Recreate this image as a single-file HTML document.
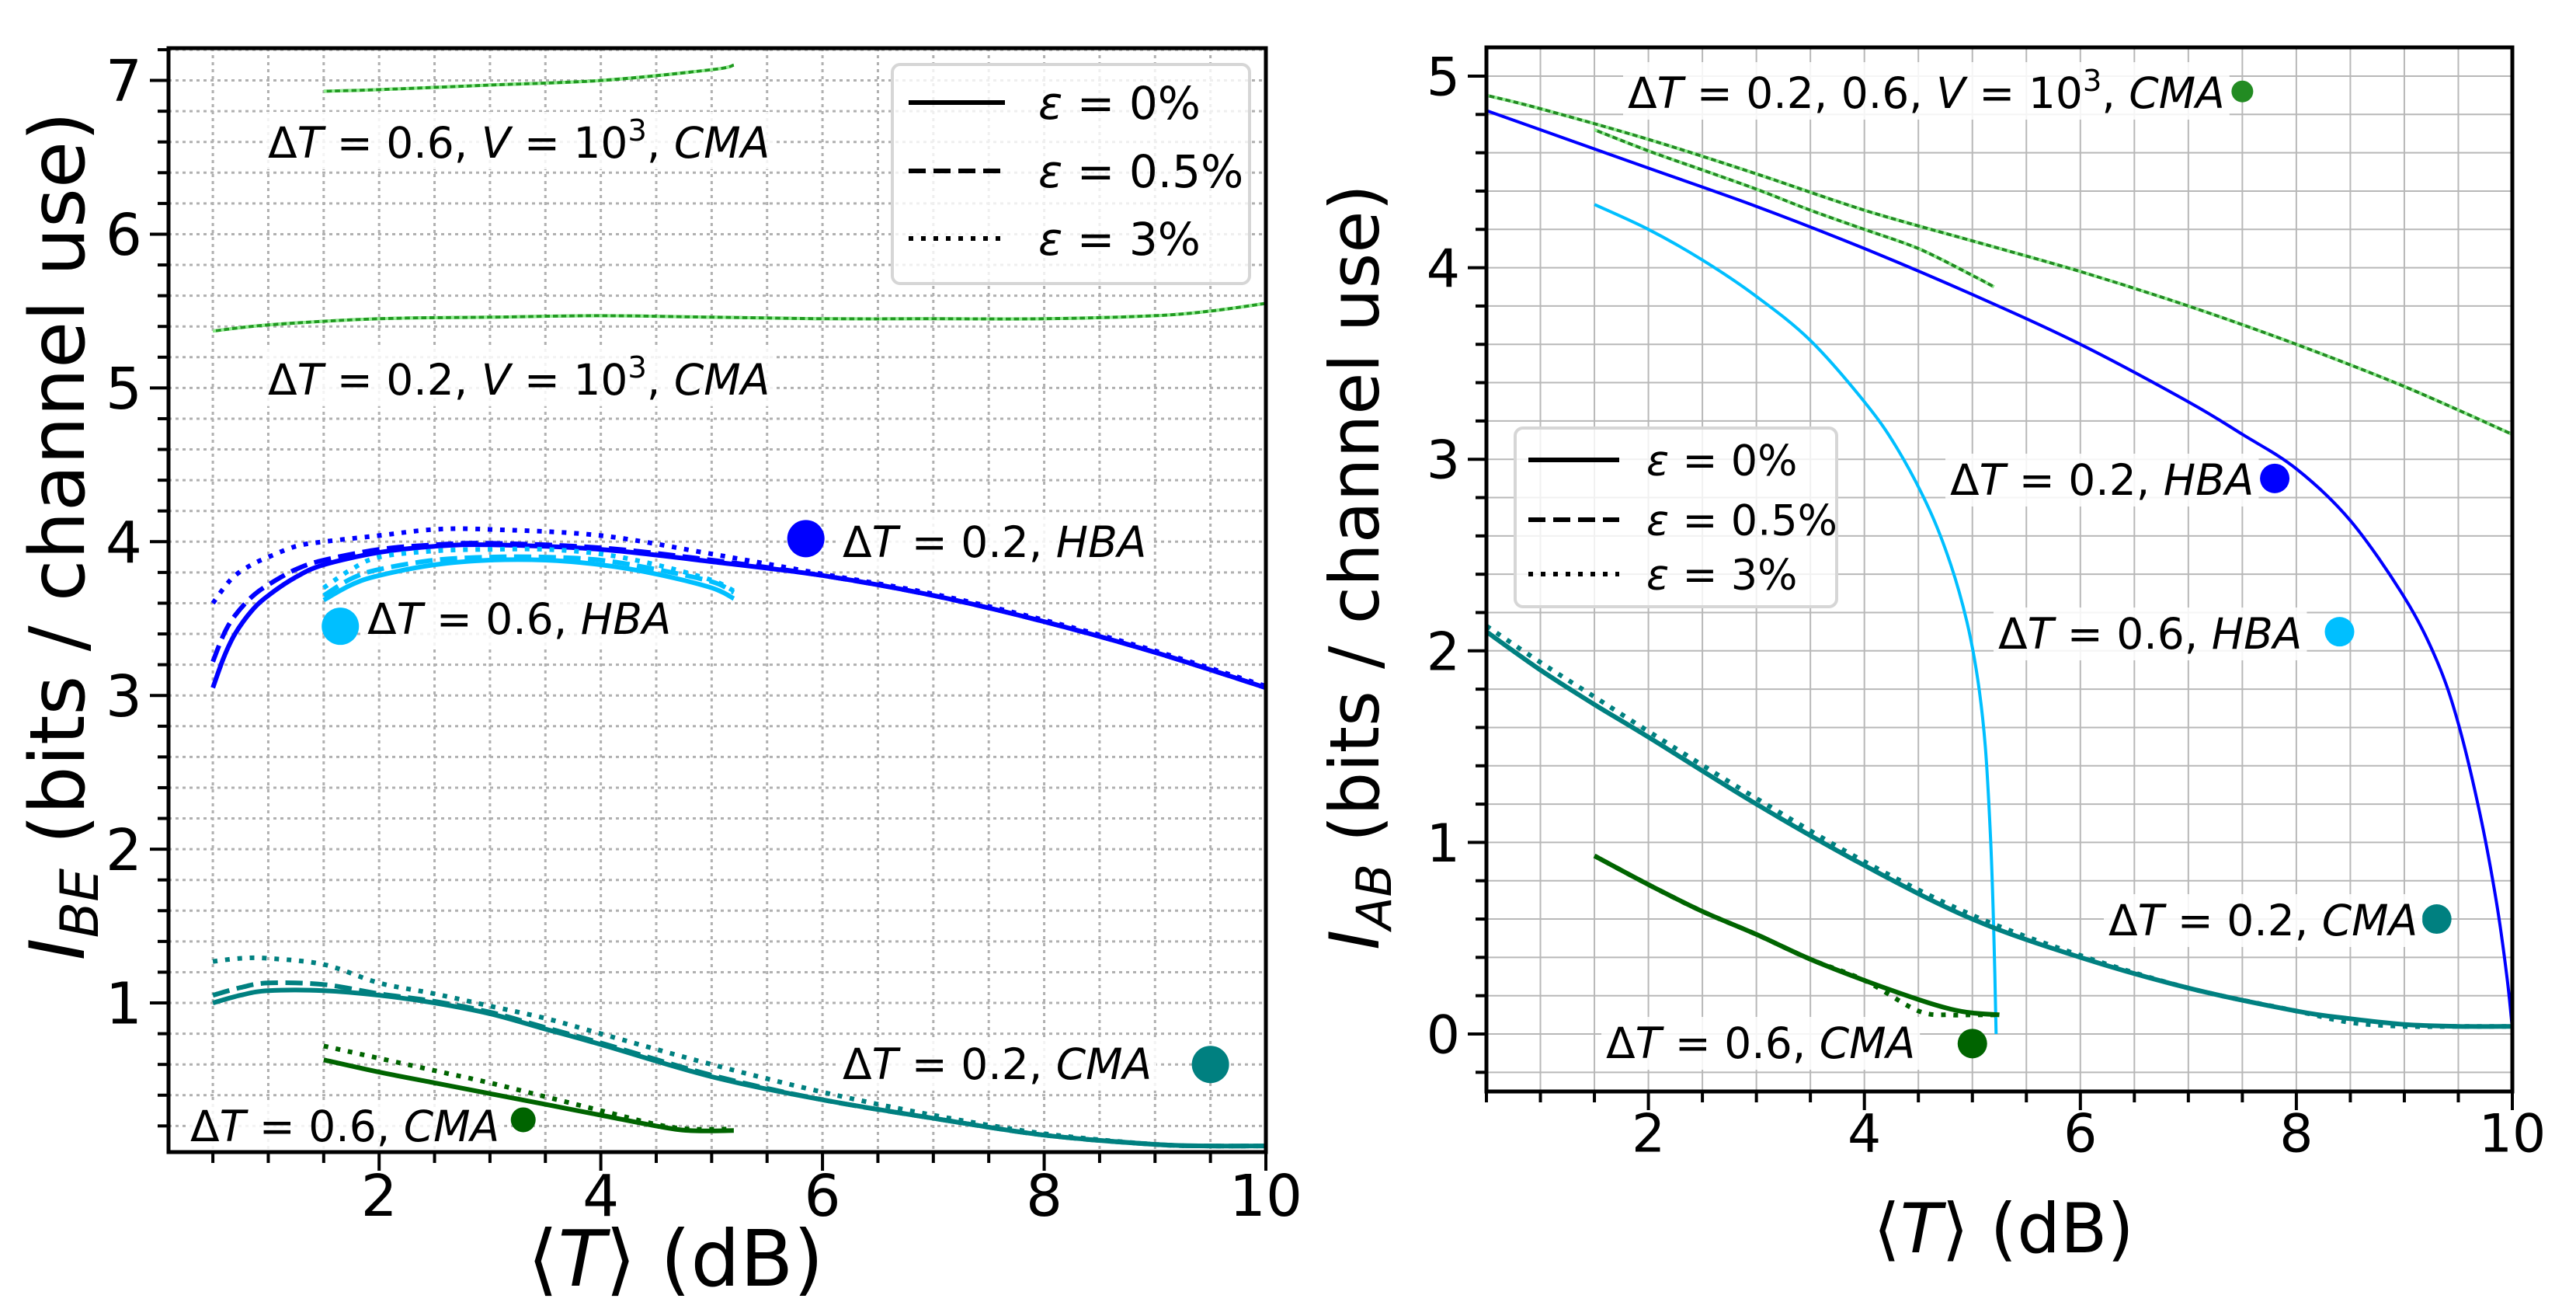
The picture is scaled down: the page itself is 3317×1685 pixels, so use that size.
<!DOCTYPE html>
<html><head><meta charset="utf-8">
<style>
html,body{margin:0;padding:0;background:#fff;}
svg{display:block;font-family:"DejaVu Sans","Liberation Sans",sans-serif;}
</style></head>
<body>
<svg id="fig" width="3317" height="1685" viewBox="0 0 3317 1685" xmlns="http://www.w3.org/2000/svg">
<rect x="0" y="0" width="3317" height="1685" fill="#fff"/>
<g id="left"></g>
<g id="right"></g>
</svg>
<script>
// ===== LEFT chart data (I_BE) =====
const L_vcma06_x = [1.5, 2, 3, 4, 5, 5.2];
const L_vcma06_y = [6.93, 6.94, 6.97, 7.0, 7.07, 7.1];
const L_vcma02_x = [0.5, 1, 2, 3, 4, 5, 6, 7, 8, 9, 9.5, 10];
const L_vcma02_y = [5.37, 5.41, 5.45, 5.46, 5.47, 5.46, 5.45, 5.45, 5.45, 5.47, 5.5, 5.55];
const L_hba02_x = [0.5, 0.6, 0.7, 0.85, 1, 1.25, 1.5, 2, 2.5, 3, 4, 5, 6, 7, 8, 9, 10];
const L_hba02_s = [3.05, 3.25, 3.4, 3.55, 3.65, 3.77, 3.85, 3.93, 3.97, 3.98, 3.95, 3.87, 3.78, 3.65, 3.48, 3.28, 3.05];
const L_hba02_d = [3.22, 3.4, 3.52, 3.64, 3.72, 3.82, 3.88, 3.95, 3.98, 3.99, 3.96, 3.88, 3.78, 3.65, 3.48, 3.28, 3.05];
const L_hba02_o = [3.6, 3.7, 3.78, 3.85, 3.9, 3.97, 4.0, 4.04, 4.08, 4.08, 4.04, 3.92, 3.79, 3.66, 3.49, 3.29, 3.06];
const L_hba06_x = [1.5, 1.75, 2, 2.5, 3, 3.5, 4, 4.5, 5, 5.2];
const L_hba06_s = [3.62, 3.72, 3.78, 3.85, 3.88, 3.88, 3.85, 3.79, 3.7, 3.63];
const L_hba06_d = [3.65, 3.76, 3.82, 3.88, 3.9, 3.9, 3.88, 3.82, 3.74, 3.67];
const L_hba06_o = [3.7, 3.82, 3.9, 3.94, 3.95, 3.95, 3.92, 3.85, 3.75, 3.68];
const L_cma02_x = [0.5, 0.75, 1, 1.5, 2, 2.5, 3, 3.5, 4, 5, 6, 7, 8, 9, 9.5, 10];
const L_cma02_s = [1.0, 1.05, 1.08, 1.08, 1.05, 1.0, 0.93, 0.83, 0.73, 0.52, 0.37, 0.25, 0.14, 0.08, 0.07, 0.07];
const L_cma02_d = [1.05, 1.1, 1.13, 1.12, 1.06, 1.01, 0.94, 0.84, 0.74, 0.53, 0.37, 0.25, 0.14, 0.08, 0.07, 0.07];
const L_cma02_o = [1.27, 1.29, 1.29, 1.25, 1.13, 1.06, 0.98, 0.9, 0.8, 0.6, 0.42, 0.27, 0.15, 0.08, 0.07, 0.07];
const L_cma06_x = [1.5, 2, 2.5, 3, 3.5, 4, 4.5, 4.8, 5.2];
const L_cma06_s = [0.63, 0.55, 0.48, 0.41, 0.34, 0.27, 0.2, 0.17, 0.17];
const L_cma06_o = [0.72, 0.64, 0.56, 0.48, 0.39, 0.3, 0.21, 0.18, 0.18];
const L_xticks = [2, 4, 6, 8, 10];
const L_yticks = [1, 2, 3, 4, 5, 6, 7];

// ===== RIGHT chart data (I_AB) =====
const R_vcma02_x = [0.5, 1, 2, 3, 4, 5, 6, 7, 8, 9, 10];
const R_vcma02_y = [4.9, 4.83, 4.67, 4.49, 4.3, 4.14, 3.98, 3.8, 3.6, 3.38, 3.13];
const R_vcma06_x = [1.5, 2, 2.5, 3, 3.5, 4, 4.5, 5, 5.2];
const R_vcma06_y = [4.72, 4.61, 4.51, 4.41, 4.3, 4.2, 4.1, 3.96, 3.9];
const R_hba02_x = [0.5, 1, 2, 3, 4, 5, 6, 7, 7.5, 8, 8.5, 9, 9.3, 9.5, 9.7, 9.85, 9.95, 10];
const R_hba02_y = [4.82, 4.72, 4.52, 4.32, 4.1, 3.86, 3.6, 3.3, 3.13, 2.95, 2.68, 2.28, 1.95, 1.62, 1.15, 0.7, 0.3, 0.03];
const R_hba06_x = [1.5, 2, 2.5, 3, 3.5, 4, 4.3, 4.6, 4.8, 4.95, 5.05, 5.12, 5.17, 5.2, 5.22];
const R_hba06_y = [4.33, 4.2, 4.04, 3.85, 3.62, 3.3, 3.06, 2.74, 2.45, 2.15, 1.85, 1.5, 1.0, 0.5, 0.0];
const R_cma02_x = [0.5, 1, 1.5, 2, 3, 4, 5, 6, 7, 8, 8.5, 9, 9.5, 10];
const R_cma02_s = [2.1, 1.9, 1.72, 1.55, 1.2, 0.88, 0.6, 0.4, 0.24, 0.12, 0.08, 0.05, 0.04, 0.04];
const R_cma02_o = [2.13, 1.94, 1.76, 1.58, 1.23, 0.9, 0.62, 0.41, 0.24, 0.12, 0.06, 0.04, 0.04, 0.04];
const R_cma06_x = [1.5, 2, 2.5, 3, 3.5, 4, 4.5, 4.8, 5, 5.25];
const R_cma06_s = [0.93, 0.78, 0.64, 0.52, 0.39, 0.28, 0.18, 0.13, 0.11, 0.1];
const R_cma06_o = [0.93, 0.78, 0.64, 0.52, 0.39, 0.28, 0.12, 0.1, 0.1, 0.1];
const R_xticks = [2, 4, 6, 8, 10];
const R_yticks = [0, 1, 2, 3, 4, 5];

const NS = 'http://www.w3.org/2000/svg';
function mk(parent, tag, attrs, text) {
  const e = document.createElementNS(NS, tag);
  for (const k in attrs) e.setAttribute(k, attrs[k]);
  if (text !== undefined) e.textContent = text;
  parent.appendChild(e);
  return e;
}
function axis(x0, x1, y0, y1, d0, d1, r0, r1) {
  return {
    x: v => x0 + (v - d0) / (d1 - d0) * (x1 - x0),
    y: v => y1 - (v - r0) / (r1 - r0) * (y1 - y0),
    x0, x1, y0, y1, d0, d1, r0, r1
  };
}
function pathD(ax, xs, ys) {
  const P = xs.map((v, i) => [ax.x(v), ax.y(ys[i])]);
  let d = 'M' + P[0][0].toFixed(1) + ' ' + P[0][1].toFixed(1);
  for (let i = 0; i < P.length - 1; i++) {
    const p0 = P[Math.max(0, i - 1)], p1 = P[i], p2 = P[i + 1], p3 = P[Math.min(P.length - 1, i + 2)];
    const c1 = [p1[0] + (p2[0] - p0[0]) / 6, p1[1] + (p2[1] - p0[1]) / 6];
    const c2 = [p2[0] - (p3[0] - p1[0]) / 6, p2[1] - (p3[1] - p1[1]) / 6];
    d += ' C' + c1[0].toFixed(1) + ' ' + c1[1].toFixed(1) + ' ' + c2[0].toFixed(1) + ' ' + c2[1].toFixed(1) + ' ' + p2[0].toFixed(1) + ' ' + p2[1].toFixed(1);
  }
  return d;
}
function line(g, ax, xs, ys, color, w, style, name) {
  const a = { d: pathD(ax, xs, ys), fill: 'none', stroke: color, 'stroke-width': w, 'stroke-linejoin': 'round' };
  if (style === 'dash') a['stroke-dasharray'] = (w * 3.7) + ' ' + (w * 1.6);
  if (style === 'dot') a['stroke-dasharray'] = w + ' ' + (w * 1.65);
  const p = mk(g, 'path', a);
  
  
  return p;
}
function marker(g, ax, xv, yv, r, color, name) {
  const c = mk(g, 'circle', { cx: ax.x(xv), cy: ax.y(yv), r: r, fill: color });
  
  
}
function label(g, x, y, parts, fs, name) {
  const t = mk(g, 'text', { x: x, y: y, 'font-size': fs, fill: '#000' });
  
  
  parts.forEach(p => {
    const s = mk(t, 'tspan', {}, p[0]);
    if (p[1] === 'i') s.setAttribute('font-style', 'italic');
    if (p[1] === 'sup') { s.setAttribute('font-size', fs * 0.7); s.setAttribute('dy', -fs * 0.4); }
    if (p[1] === 'unsup') { s.setAttribute('dy', fs * 0.4); }
  });
  const bb = t.getBBox();
  const r = mk(g, 'rect', { x: bb.x - 6, y: bb.y - 2, width: bb.width + 12, height: bb.height + 4, fill: '#fff', 'fill-opacity': 0.85 });
  
  
  g.insertBefore(r, t);
}
function gridAndAxes(g, ax, xstep, ystep, xt, yt, dotted, tfs, name) {
  const gg = mk(g, 'g', {});
  
  
  const st = dotted ? { stroke: '#b0b0b0', 'stroke-width': 3, 'stroke-dasharray': '4 5' } : { stroke: '#b8b8b8', 'stroke-width': 2 };
  for (let v = Math.ceil(ax.d0 / xstep) * xstep; v <= ax.d1 + 1e-9; v += xstep) {
    mk(gg, 'line', Object.assign({ x1: ax.x(v), x2: ax.x(v), y1: ax.y0, y2: ax.y1 }, st));
    const major = Math.abs(v - Math.round(v / 2) * 2) < 1e-6;
    mk(gg, 'line', { x1: ax.x(v), x2: ax.x(v), y1: ax.y1, y2: ax.y1 + (major ? 24 : 14), stroke: '#000', 'stroke-width': 4 });
  }
  for (let v = Math.ceil(ax.r0 / ystep - 1e-9) * ystep; v <= ax.r1 + 1e-9; v += ystep) {
    mk(gg, 'line', Object.assign({ x1: ax.x0, x2: ax.x1, y1: ax.y(v), y2: ax.y(v) }, st));
    const major = Math.abs(v - Math.round(v)) < 1e-6;
    mk(gg, 'line', { x1: ax.x0, x2: ax.x0 - (major ? 24 : 14), y1: ax.y(v), y2: ax.y(v), stroke: '#000', 'stroke-width': 4 });
  }
  xt.forEach(v => {
    const t = mk(g, 'text', { x: ax.x(v), y: ax.y1 + 28 + tfs * 0.73, 'font-size': tfs, 'text-anchor': 'middle' }, String(v));
    
    
  });
  yt.forEach(v => {
    const t = mk(g, 'text', { x: ax.x0 - 34, y: ax.y(v) + tfs * 0.36, 'font-size': tfs, 'text-anchor': 'end' }, String(v));
    
    
  });
}
function frame(g, ax, name) {
  const r = mk(g, 'rect', { x: ax.x0, y: ax.y0, width: ax.x1 - ax.x0, height: ax.y1 - ax.y0, fill: 'none', stroke: '#000', 'stroke-width': 5 });
  
  
}
function legend(g, x, y, w, h, rows, lx0, lx1, tx, fs, name) {
  const lg = mk(g, 'g', {});
  
  
  mk(lg, 'rect', { x: x, y: y, width: w, height: h, rx: 10, fill: '#fff', 'fill-opacity': 0.8, stroke: '#d6d6d6', 'stroke-width': 4 });
  const styles = ['solid', 'dash', 'dot'];
  const texts = ['0', '0.5', '3'];
  rows.forEach((ry, i) => {
    const a = { x1: lx0, x2: lx1, y1: ry, y2: ry, stroke: '#000', 'stroke-width': 6 };
    if (styles[i] === 'dash') a['stroke-dasharray'] = '22 10';
    if (styles[i] === 'dot') a['stroke-dasharray'] = '6 10';
    const l = mk(lg, 'line', a);
    
    
    const t = mk(lg, 'text', { x: tx, y: ry + fs * 0.36, 'font-size': fs });
    
    
    mk(t, 'tspan', { 'font-style': 'italic' }, 'ε');
    mk(t, 'tspan', {}, ' = ' + texts[i] + '%');
  });
}

// ===== LEFT =====
(function () {
  const g = document.getElementById('left');
  const ax = axis(217, 1630, 62, 1483, 0.1, 10, 0.03, 7.21);
  gridAndAxes(g, ax, 0.5, 0.2, L_xticks, L_yticks, true, 74, 'left');
  const W = 6;
  line(g, ax, L_vcma06_x, L_vcma06_y, '#1f9a1f', 4, 'solid', 'line-v-cma-06');
  line(g, ax, L_vcma06_x, L_vcma06_y, '#90ee90', 4, 'dot', 'line-v-cma-06-dotted');
  line(g, ax, L_vcma02_x, L_vcma02_y, '#1f9a1f', 4, 'solid', 'line-v-cma-02');
  line(g, ax, L_vcma02_x, L_vcma02_y, '#90ee90', 4, 'dot', 'line-v-cma-02-dotted');
  line(g, ax, L_hba02_x, L_hba02_s, '#0000ff', W, 'solid', 'line-hba-02-e0');
  line(g, ax, L_hba02_x, L_hba02_d, '#0000ff', W, 'dash', 'line-hba-02-e05');
  line(g, ax, L_hba02_x, L_hba02_o, '#0000ff', W, 'dot', 'line-hba-02-e3');
  line(g, ax, L_hba06_x, L_hba06_s, '#00bfff', W, 'solid', 'line-hba-06-e0');
  line(g, ax, L_hba06_x, L_hba06_d, '#00bfff', W, 'dash', 'line-hba-06-e05');
  line(g, ax, L_hba06_x, L_hba06_o, '#00bfff', W, 'dot', 'line-hba-06-e3');
  line(g, ax, L_cma02_x, L_cma02_s, '#008080', W, 'solid', 'line-cma-02-e0');
  line(g, ax, L_cma02_x, L_cma02_d, '#008080', W, 'dash', 'line-cma-02-e05');
  line(g, ax, L_cma02_x, L_cma02_o, '#008080', W, 'dot', 'line-cma-02-e3');
  line(g, ax, L_cma06_x, L_cma06_s, '#006400', W, 'solid', 'line-cma-06-e0');
  line(g, ax, L_cma06_x, L_cma06_o, '#006400', W, 'dot', 'line-cma-06-e3');
  marker(g, ax, 5.85, 4.02, 24, '#0000ff', 'marker-hba-02');
  marker(g, ax, 1.65, 3.45, 24, '#00bfff', 'marker-hba-06');
  marker(g, ax, 9.5, 0.6, 24, '#008080', 'marker-cma-02');
  marker(g, ax, 3.3, 0.24, 16, '#006400', 'marker-cma-06');
  const fs = 55;
  label(g, 345, 203, [['Δ'], ['T', 'i'], [' = 0.6, '], ['V', 'i'], [' = 10'], ['3', 'sup'], [', ', 'unsup'], ['CMA', 'i']], fs, 'label-v-cma-06');
  label(g, 345, 508, [['Δ'], ['T', 'i'], [' = 0.2, '], ['V', 'i'], [' = 10'], ['3', 'sup'], [', ', 'unsup'], ['CMA', 'i']], fs, 'label-v-cma-02');
  label(g, 1085, 717, [['Δ'], ['T', 'i'], [' =  0.2, '], ['HBA', 'i']], fs, 'label-hba-02');
  label(g, 473, 816, [['Δ'], ['T', 'i'], [' = 0.6, '], ['HBA', 'i']], fs, 'label-hba-06');
  label(g, 1085, 1389, [['Δ'], ['T', 'i'], [' = 0.2, '], ['CMA', 'i']], fs, 'label-cma-02');
  label(g, 245, 1469, [['Δ'], ['T', 'i'], [' = 0.6, '], ['CMA', 'i']], fs, 'label-cma-06');
  frame(g, ax, 'left');
  legend(g, 1149, 83, 460, 282, [132, 220, 307], 1170, 1294, 1337, 58, 'left-legend');
  const xl = mk(g, 'text', { x: 870, y: 1655, 'font-size': 100, 'text-anchor': 'middle' });
  
  
  mk(xl, 'tspan', {}, '⟨');
  mk(xl, 'tspan', { 'font-style': 'italic' }, 'T');
  mk(xl, 'tspan', {}, '⟩ (dB)');
  const yl = mk(g, 'text', { x: 0, y: 0, 'font-size': 98, 'text-anchor': 'middle', transform: 'translate(108,690) rotate(-90)' });
  
  
  mk(yl, 'tspan', { 'font-style': 'italic' }, 'I');
  mk(yl, 'tspan', { 'font-style': 'italic', 'font-size': 68, dy: 18 }, 'BE');
  mk(yl, 'tspan', { dy: -18 }, ' (bits / channel use)');
})();

// ===== RIGHT =====
(function () {
  const g = document.getElementById('right');
  const ax = axis(1914, 3235, 61, 1405, 0.5, 10, -0.3, 5.15);
  gridAndAxes(g, ax, 0.5, 0.2, R_xticks, R_yticks, false, 68, 'right');
  const W = 4;
  line(g, ax, R_vcma02_x, R_vcma02_y, '#228b22', 4, 'solid', 'line-v-cma-02');
  line(g, ax, R_vcma02_x, R_vcma02_y, '#90ee90', 4, 'dot', 'line-v-cma-02-dotted');
  line(g, ax, R_vcma06_x, R_vcma06_y, '#228b22', 4, 'solid', 'line-v-cma-06');
  line(g, ax, R_vcma06_x, R_vcma06_y, '#90ee90', 4, 'dot', 'line-v-cma-06-dotted');
  line(g, ax, R_hba02_x, R_hba02_y, '#0000ff', W, 'solid', 'line-hba-02');
  line(g, ax, R_hba06_x, R_hba06_y, '#00bfff', W, 'solid', 'line-hba-06');
  line(g, ax, R_cma02_x, R_cma02_s, '#008080', 6, 'solid', 'line-cma-02-e0');
  line(g, ax, R_cma02_x, R_cma02_o, '#008080', 6, 'dot', 'line-cma-02-e3');
  line(g, ax, R_cma06_x, R_cma06_s, '#006400', 6, 'solid', 'line-cma-06-e0');
  line(g, ax, R_cma06_x, R_cma06_o, '#006400', 6, 'dot', 'line-cma-06-e3');
  marker(g, ax, 7.5, 4.92, 14, '#228b22', 'marker-v-cma');
  marker(g, ax, 7.8, 2.9, 19, '#0000ff', 'marker-hba-02');
  marker(g, ax, 8.4, 2.1, 19, '#00bfff', 'marker-hba-06');
  marker(g, ax, 9.3, 0.6, 19, '#008080', 'marker-cma-02');
  marker(g, ax, 5.0, -0.05, 19, '#006400', 'marker-cma-06');
  const fs = 55;
  label(g, 2096, 139, [['Δ'], ['T', 'i'], [' = 0.2, 0.6, '], ['V', 'i'], [' = 10'], ['3', 'sup'], [', ', 'unsup'], ['CMA', 'i']], fs, 'label-v-cma');
  label(g, 2511, 637, [['Δ'], ['T', 'i'], [' = 0.2, '], ['HBA', 'i']], fs, 'label-hba-02');
  label(g, 2573, 835, [['Δ'], ['T', 'i'], [' = 0.6, '], ['HBA', 'i']], fs, 'label-hba-06');
  label(g, 2715, 1204, [['Δ'], ['T', 'i'], [' = 0.2, '], ['CMA', 'i']], fs, 'label-cma-02');
  label(g, 2068, 1362, [['Δ'], ['T', 'i'], [' = 0.6, '], ['CMA', 'i']], fs, 'label-cma-06');
  frame(g, ax, 'right');
  legend(g, 1951, 551, 414, 230, [592, 669, 739], 1968, 2085, 2120, 54, 'right-legend');
  const xl = mk(g, 'text', { x: 2580, y: 1612, 'font-size': 88, 'text-anchor': 'middle' });
  
  
  mk(xl, 'tspan', {}, '⟨');
  mk(xl, 'tspan', { 'font-style': 'italic' }, 'T');
  mk(xl, 'tspan', {}, '⟩ (dB)');
  const yl = mk(g, 'text', { x: 0, y: 0, 'font-size': 88, 'text-anchor': 'middle', transform: 'translate(1775,730) rotate(-90)' });
  
  
  mk(yl, 'tspan', { 'font-style': 'italic' }, 'I');
  mk(yl, 'tspan', { 'font-style': 'italic', 'font-size': 62, dy: 16 }, 'AB');
  mk(yl, 'tspan', { dy: -16 }, ' (bits / channel use)');
})();
</script>
</body></html>
